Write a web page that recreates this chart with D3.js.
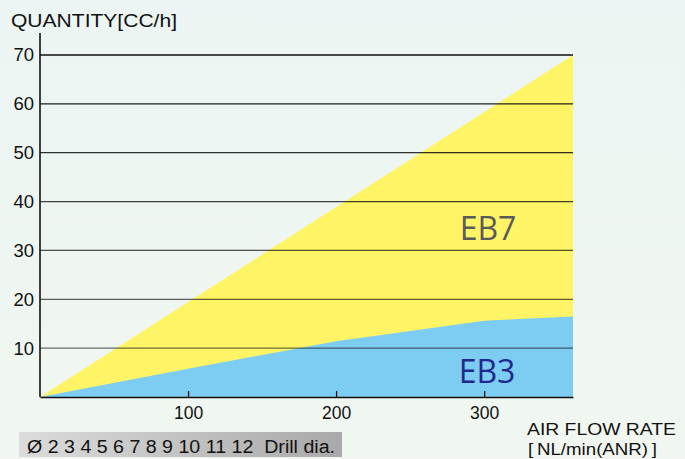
<!DOCTYPE html>
<html>
<head>
<meta charset="utf-8">
<script src="https://cdn.jsdelivr.net/npm/d3@7"></script>
<style>
  body { margin: 0; padding: 0; }
  svg { display: block; }
</style>
</head>
<body>
<div id="chart"></div>
<script>
// data
var flowEB7 = [0, 360];
var qtyEB7 = [0, 70];
var flowEB3 = [0, 100, 200, 300, 360];
var qtyEB3 = [0, 5.8, 11.4, 15.6, 16.5];
var yTicks = [10, 20, 30, 40, 50, 60, 70];
var xTicks = [100, 200, 300];
var drillText = "\u00D8 2 3 4 5 6 7 8 9 10 11 12  Drill dia.";

var w = 685;
var h = 459;
var font = "'Liberation Sans', Arial, sans-serif";

var svg = d3.select("#chart")
    .append("svg")
    .attr("width", w)
    .attr("height", h);

var defs = svg.append("defs");
var bg = defs.append("linearGradient").attr("id", "bg")
    .attr("x1", 0).attr("y1", 0).attr("x2", 0).attr("y2", 1);
bg.append("stop").attr("offset", "0%").attr("stop-color", "#ecf5f3");
bg.append("stop").attr("offset", "100%").attr("stop-color", "#f1f7f0");

var gray = defs.append("linearGradient").attr("id", "drill")
    .attr("x1", 0).attr("y1", 0).attr("x2", 1).attr("y2", 0);
gray.append("stop").attr("offset", "0%").attr("stop-color", "#dcdcdc");
gray.append("stop").attr("offset", "100%").attr("stop-color", "#a9a9a9");

svg.append("rect")
    .attr("width", w)
    .attr("height", h)
    .attr("fill", "url(#bg)");

var xScale = d3.scaleLinear().domain([0, 360]).range([40, 573]);
var yScale = d3.scaleLinear().domain([0, 70]).range([397, 55]);

var area = d3.area()
    .x(function (d) { return xScale(d[0]); })
    .y0(yScale(0))
    .y1(function (d) { return yScale(d[1]); });

var eb7 = flowEB7.map(function (f, i) { return [f, qtyEB7[i]]; });
var eb3 = flowEB3.map(function (f, i) { return [f, qtyEB3[i]]; });

svg.append("path")
    .datum(eb7)
    .attr("d", area)
    .attr("fill", "#fff466");

svg.append("path")
    .datum(eb3)
    .attr("d", area)
    .attr("fill", "#7dcdf2");

// grid lines, lighter toward the bottom
var gridOpacity = d3.scaleLinear().domain([10, 70]).range([0.6, 1]);
svg.selectAll(".grid")
    .data(yTicks)
    .enter()
    .append("line")
    .attr("class", "grid")
    .attr("x1", xScale(0))
    .attr("x2", xScale(360))
    .attr("y1", function (d) { return yScale(d); })
    .attr("y2", function (d) { return yScale(d); })
    .attr("stroke", "#111")
    .attr("stroke-opacity", function (d) { return gridOpacity(d); })
    .attr("stroke-width", 1.3);

// axes
var yAxis = d3.axisLeft(yScale).tickValues(yTicks).tickSize(0).tickPadding(6);
var gy = svg.append("g")
    .attr("transform", "translate(" + xScale(0) + ",0)")
    .call(yAxis);
gy.select(".domain").remove();
gy.selectAll("text")
    .attr("font-family", font)
    .attr("font-size", 18.5)
    .attr("fill", "#111");

svg.append("line")
    .attr("x1", xScale(0)).attr("x2", xScale(0))
    .attr("y1", 33).attr("y2", yScale(0))
    .attr("stroke", "#111").attr("stroke-width", 1.6);

var xAxis = d3.axisBottom(xScale).tickValues(xTicks).tickSizeInner(-6).tickSizeOuter(0).tickPadding(0);
var gx = svg.append("g")
    .attr("transform", "translate(0," + yScale(0) + ")")
    .call(xAxis);
gx.select(".domain").attr("stroke", "#111").attr("stroke-width", 1.6);
gx.selectAll(".tick line").attr("stroke", "#111").attr("stroke-width", 1.3);
gx.selectAll("text")
    .attr("y", 22)
    .attr("dy", 0)
    .attr("font-family", font)
    .attr("font-size", 17.5)
    .attr("fill", "#111");

// titles
function label(txt, x, y, len, size) {
    return svg.append("text")
        .text(txt)
        .attr("x", x)
        .attr("y", y)
        .attr("textLength", len)
        .attr("lengthAdjust", "spacingAndGlyphs")
        .attr("font-family", font)
        .attr("font-size", size || 18)
        .attr("fill", "#111");
}

label("QUANTITY[CC/h]", 11, 27, 166);
label("AIR FLOW RATE", 527, 435, 149, 16.5);
label("[\u2009NL/min(ANR)\u2009]", 528, 455, 129, 16.5);

// series labels
svg.append("text")
    .text("EB7")
    .attr("x", 488)
    .attr("y", 240)
    .attr("text-anchor", "middle")
    .attr("font-family", "'Open Sans', 'Noto Sans', sans-serif")
    .attr("font-size", 32)
    .attr("fill", "#5a5a5a");

svg.append("text")
    .text("EB3")
    .attr("x", 487)
    .attr("y", 383)
    .attr("text-anchor", "middle")
    .attr("font-family", "'Open Sans', 'Noto Sans', sans-serif")
    .attr("font-size", 32)
    .attr("fill", "#22288c");

// drill diameter strip
svg.append("rect")
    .attr("x", 19)
    .attr("y", 432)
    .attr("width", 323)
    .attr("height", 25)
    .attr("fill", "url(#drill)");

label(drillText, 27, 453, 308)
    .attr("xml:space", "preserve")
    .style("white-space", "pre");
</script>
</body>
</html>
